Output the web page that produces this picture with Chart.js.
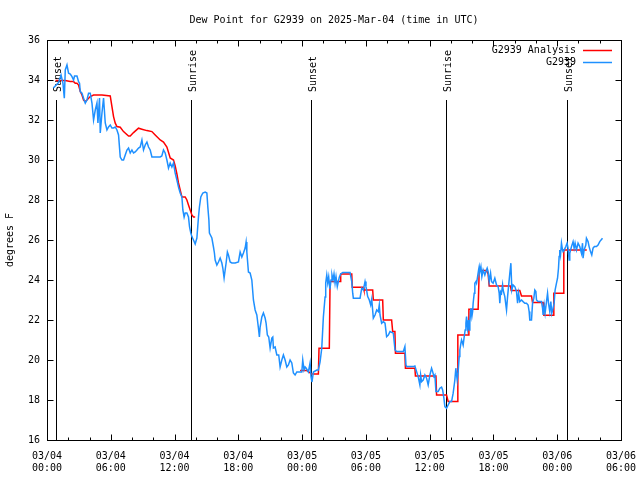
<!DOCTYPE html>
<html>
<head>
<meta charset="utf-8">
<script src="https://cdn.jsdelivr.net/npm/chart.js@4/dist/chart.umd.min.js"></script>
<style>
html, body { margin: 0; padding: 0; background: #fff; }
#wrap { width: 640px; height: 480px; }
</style>
</head>
<body>
<div id="wrap"><canvas id="chart" width="640" height="480"></canvas></div>
<script>
const chartTitle = 'Dew Point for G2939 on 2025-Mar-04 (time in UTC)';
const yTitle = 'degrees F';
const seriesNames = ['G2939 Analysis', 'G2939'];
const seriesColors = ['#ff0000', '#1e90ff'];

// x ticks every 6 hours from 03/04 00:00
const xTickDates = ['03/04', '03/04', '03/04', '03/04', '03/05', '03/05', '03/05', '03/05', '03/06', '03/06'];
const xTickTimes = ['00:00', '06:00', '12:00', '18:00', '00:00', '06:00', '12:00', '18:00', '00:00', '06:00'];

// sunrise / sunset markers (hours since 03/04 00:00 UTC)
const eventHours = [0.85, 13.53, 24.84, 37.5, 48.93];
const eventLabels = ['Sunset', 'Sunrise', 'Sunset', 'Sunrise', 'Sunset'];

// analysis (red), null = gap
const analysisHours = [0.8, 1.72, 2.19, 2.5, 2.66, 2.82, 2.97, 3.13, 3.29, 3.44, 3.6, 3.76, 4.07, 4.38, 5.17, 5.95,
  6.11, 6.26, 6.42, 6.58, 6.89, 7.2, 7.67, 7.83, 8.14, 8.61, 8.93, 9.4, 9.87, 10.18, 10.65, 10.96, 11.28, 11.59,
  11.9, 12.06, 12.22, 12.37, 12.53, 12.69, 13.0, 13.16, 13.31, 13.47, 13.63, 13.78, 13.94,
  18.0,
  23.81, 24.44, 24.91, 25.53, 25.59, 26.56, 26.63, 27.57, 27.63, 28.67, 28.72, 29.76, 29.82, 30.64, 30.7, 31.58,
  31.64, 32.42, 32.52, 32.73, 32.78, 33.67, 33.72, 34.61, 34.66, 36.59, 36.65, 37.59, 37.74, 38.59, 38.65, 39.62,
  39.69, 40.56, 40.66, 41.35, 41.5, 41.6, 43.61, 43.67, 44.48, 44.64, 45.58, 45.68, 46.67, 46.74, 47.61, 47.68,
  48.55, 48.62, 50.78];
const analysisValues = [33.97, 33.97, 33.92, 33.92, 33.84, 33.84, 33.75, 33.42, 33.25, 33.0, 32.92, 33.0, 33.17, 33.25, 33.25, 33.2,
  32.67, 32.17, 31.84, 31.67, 31.64, 31.42, 31.2, 31.2, 31.37, 31.59, 31.54, 31.47, 31.42, 31.25, 31.0, 30.9, 30.65, 30.1,
  30.0, 29.7, 29.3, 28.85, 28.5, 28.15, 28.15, 28.0, 27.75, 27.5, 27.25, 27.15, 27.15,
  null,
  19.47, 19.47, 19.3, 19.3, 20.59, 20.59, 23.92, 23.92, 24.3, 24.3, 23.64, 23.64, 23.5, 23.5, 23.0, 23.0,
  22.0, 22.0, 21.42, 21.42, 20.34, 20.34, 19.59, 19.59, 19.2, 19.2, 18.25, 18.25, 17.92, 17.92, 21.25, 21.25,
  22.54, 22.54, 24.47, 24.47, 24.3, 23.7, 23.7, 23.47, 23.47, 23.2, 23.2, 22.87, 22.87, 22.24, 22.24, 23.34,
  23.34, 25.5, 25.5];

// station observations (blue)
const obsHours = [0.59, 1.09, 1.32, 1.5, 1.63, 1.72, 1.88, 2.03, 2.19, 2.35, 2.5, 2.59, 2.82, 2.97, 3.06, 3.13, 3.29, 3.44,
  3.6, 3.76, 3.91, 4.07, 4.23, 4.38, 4.54, 4.7, 4.79, 4.94, 5.01, 5.17, 5.32, 5.48, 5.64, 5.79, 5.95, 6.11, 6.26, 6.42,
  6.58, 6.73, 6.89, 7.05, 7.2, 7.36, 7.52, 7.67, 7.83, 7.99, 8.14, 8.3, 8.46, 8.61, 8.77, 8.93, 9.08, 9.24, 9.4, 9.55,
  9.71, 9.87, 10.02, 10.65, 10.8, 10.96, 11.12, 11.28, 11.43, 11.59, 11.75, 11.9, 12.06, 12.22, 12.37, 12.53, 12.69,
  12.78, 12.9, 13.0, 13.16, 13.31, 13.41, 13.53, 13.63, 13.78, 13.94, 14.1, 14.25, 14.34, 14.47, 14.66, 14.88, 15.04,
  15.13, 15.23, 15.28, 15.51, 15.66, 15.75, 15.82, 15.98, 16.13, 16.29, 16.45, 16.54, 16.66, 16.76, 16.85, 16.97,
  17.07, 17.23, 17.39, 17.7, 18.01, 18.17, 18.33, 18.48, 18.64, 18.73, 18.8, 18.95, 19.11, 19.27, 19.42, 19.58, 19.74,
  19.89, 19.98, 20.05, 20.21, 20.36, 20.52, 20.61, 20.73, 20.86, 20.99, 21.15, 21.24, 21.3, 21.46, 21.62, 21.8, 21.93,
  22.09, 22.24, 22.4, 22.56, 22.71, 22.87, 23.03, 23.18, 23.34, 23.5, 23.97, 24.06, 24.18, 24.28, 24.37, 24.59, 24.75,
  24.84, 24.93, 25.06, 25.38, 25.53, 25.69, 25.85, 26.0, 26.16, 26.22, 26.32, 26.41, 26.5, 26.6,
  26.63, 26.72, 26.81, 26.91, 27.0, 27.1, 27.19, 27.31, 27.41, 27.5, 27.63, 27.82, 28.51, 28.67, 28.76, 28.82, 29.45,
  29.61, 29.76, 29.92, 30.01, 30.17, 30.32, 30.45, 30.55, 30.7, 30.86, 31.02, 31.17, 31.26, 31.33, 31.48, 31.64, 31.8,
  31.95, 32.11, 32.27, 32.58, 32.74, 32.89, 33.52, 33.67, 33.77, 33.83, 34.45, 34.61, 34.77, 34.92, 35.08, 35.15, 35.24,
  35.39, 35.55, 35.71, 35.86, 36.02, 36.18, 36.28, 36.4, 36.49, 36.59, 36.8, 36.96, 37.12, 37.22, 37.34, 37.43, 37.59,
  37.74, 37.9, 38.06, 38.21, 38.37, 38.46, 38.59, 38.68, 38.78, 38.84, 38.94, 39.0, 39.1, 39.15, 39.25, 39.34, 39.41,
  39.47, 39.57, 39.66, 39.72, 39.78, 39.88, 39.97, 40.04, 40.09, 40.19, 40.25, 40.35, 40.41, 40.51, 40.6, 40.66, 40.72,
  40.82, 40.91, 41.03, 41.19, 41.29, 41.41, 41.5, 41.6, 41.73, 41.82, 41.97, 42.13, 42.29, 42.44, 42.54, 42.6, 42.67,
  42.76, 42.86, 42.91, 43.07, 43.23, 43.33, 43.42, 43.54, 43.64, 43.73, 43.85, 44.01, 44.17, 44.27, 44.36, 44.48, 44.64,
  44.79, 44.95, 45.11, 45.26, 45.36, 45.42, 45.58, 45.68, 45.8, 45.89, 45.99, 46.05, 46.2, 46.52, 46.62, 46.67, 46.77,
  46.86, 46.99, 47.09, 47.18, 47.3, 47.4, 47.49, 47.61, 47.71, 47.8, 47.93, 48.03, 48.12, 48.18, 48.24, 48.31, 48.4,
  48.5, 48.55, 48.65, 48.81, 48.93, 49.02, 49.12, 49.18, 49.34, 49.49, 49.59, 49.68, 49.81, 49.96, 50.12, 50.28, 50.38,
  50.43, 50.53, 50.69, 50.75, 50.9, 51.0, 51.13, 51.25, 51.37, 51.5, 51.69, 51.84, 52.0, 52.26];
const obsValues = [33.6, 33.87, 34.25, 33.84, 33.09, 34.5, 34.75, 34.34, 34.3, 34.17, 34.0, 34.2, 34.2, 33.92, 33.84, 33.42, 33.34, 33.09,
  32.84, 33.0, 33.34, 33.34, 32.85, 32.0, 32.5, 32.85, 31.85, 33.1, 31.35, 32.35, 33.1, 31.85, 31.5, 31.65, 31.75, 31.6, 31.6, 31.65,
  31.5, 31.25, 30.15, 30.0, 30.0, 30.25, 30.5, 30.6, 30.35, 30.5, 30.35, 30.4, 30.5, 30.6, 30.65, 31.0, 30.5, 30.75, 30.9, 30.65,
  30.5, 30.15, 30.15, 30.15, 30.2, 30.5, 30.35, 30.0, 29.6, 29.85, 29.65, 29.85, 29.35, 29.0, 28.65, 28.35, 28.15,
  27.5, 27.15, 27.35, 27.35, 27.15, 26.65, 26.35, 26.17, 26.0, 25.8, 26.1, 27.15, 27.65, 28.15, 28.35, 28.4, 28.35,
  27.65, 27.0, 26.35, 26.1, 25.65, 25.35, 25.0, 24.75, 24.9, 25.1, 24.85, 24.6, 24.1, 24.5, 24.85, 25.4,
  25.25, 24.9, 24.85, 24.85, 24.9, 25.4, 25.15, 25.35, 25.6, 25.9, 25.4, 24.4, 24.35, 24.0, 23.0, 22.5, 22.25,
  21.6, 21.15, 21.65, 22.15, 22.35, 22.1, 21.85, 21.25, 21.15, 20.6, 21.1, 21.15, 20.6, 20.65, 20.25, 20.25, 19.65,
  20.0, 20.25, 20.0, 19.65, 19.75, 20.0, 19.85, 19.35, 19.25, 19.4, 19.4, 20.0, 19.5, 19.65, 19.6, 19.4, 19.85,
  19.15, 18.9, 19.4, 19.5, 19.5, 19.9, 20.6, 22.15, 23.15, 23.85, 24.25, 23.85, 24.15, 23.6,
  23.59, 24.0, 24.25, 24.0, 24.3, 23.84, 24.17, 23.67, 23.92, 24.14, 24.3, 24.37, 24.37, 23.92, 23.34, 23.09, 23.09,
  23.59, 23.5, 23.92, 23.67, 23.17, 23.0, 22.75, 23.04, 22.09, 22.25, 22.5, 22.42, 22.75, 22.25, 21.84, 21.92, 21.84,
  21.17, 21.25, 21.42, 21.34, 20.5, 20.42, 20.42, 20.67, 19.75, 19.67, 19.67, 19.7, 19.42, 19.17, 18.75, 19.25, 18.92,
  19.0, 19.25, 19.09, 18.75, 19.25, 19.59, 19.42, 19.17, 19.25, 18.42, 18.42, 18.59, 18.64, 18.5, 18.09, 17.67, 17.59,
  17.75, 17.92, 17.92, 18.34, 19.0, 19.59, 19.0, 19.42, 20.17, 20.5, 20.84, 21.0, 20.84, 20.75, 21.17, 21.5, 21.84,
  22.17, 21.59, 22.0, 21.5, 21.92, 22.59, 22.17, 22.42, 22.84, 23.34, 23.84, 23.92, 23.84, 24.17, 24.5, 24.67, 24.42,
  24.67, 24.17, 24.5, 24.25, 24.42, 24.59, 24.42, 23.92, 24.34, 23.92, 23.84, 24.09, 23.75, 23.67, 23.34, 22.84, 23.42,
  23.34, 23.75, 23.5, 23.17, 22.5, 23.17, 23.67, 24.34, 24.84, 23.5, 23.75, 23.67, 23.42, 22.84, 23.34, 22.92, 23.0,
  22.92, 22.84, 22.84, 22.75, 22.42, 22.0, 22.0, 22.84, 23.09, 23.5, 23.42, 23.0, 22.92, 22.92, 22.59, 22.25, 22.75,
  22.34, 22.92, 23.34, 22.84, 22.42, 22.92, 22.34, 22.59, 22.84, 23.5, 23.84, 24.09, 24.59, 25.17, 25.5, 25.25, 25.84,
  25.5, 25.42, 25.5, 25.67, 25.84, 25.59, 25.0, 25.34, 25.67, 25.92, 25.59, 25.84, 25.5, 25.84, 25.67, 25.34, 25.84,
  25.09, 25.5, 25.75, 26.09, 25.92, 25.67, 25.42, 25.25, 25.59, 25.67, 25.67, 25.75, 25.92, 26.09];

const monoFont = { family: 'DejaVu Sans Mono', size: 10 };
Chart.defaults.font.family = monoFont.family;
Chart.defaults.font.size = monoFont.size;
Chart.defaults.color = '#000';

const toPoints = (xs, ys) => xs.map((x, i) => ({ x: x, y: ys[i] }));

// frame, inward ticks, sunrise/sunset markers, legend and title (gnuplot look)
const gnuplotLook = {
  id: 'gnuplotLook',
  beforeDatasetsDraw(chart) {
    const { ctx, chartArea, scales } = chart;
    ctx.save();
    ctx.strokeStyle = '#000';
    ctx.lineWidth = 1;
    ctx.fillStyle = '#000';
    ctx.font = '10px "DejaVu Sans Mono"';
    eventHours.forEach((h, i) => {
      const x = Math.round(scales.x.getPixelForValue(h)) + 0.5;
      ctx.beginPath();
      ctx.moveTo(x, 100);
      ctx.lineTo(x, chartArea.bottom);
      ctx.stroke();
      ctx.save();
      ctx.translate(x + 1.5, 92);
      ctx.rotate(-Math.PI / 2);
      ctx.textAlign = 'left';
      ctx.textBaseline = 'middle';
      ctx.fillText(eventLabels[i], 0, 0);
      ctx.restore();
    });
    ctx.restore();
  },
  afterDatasetsDraw(chart) {
    const { ctx, chartArea, scales } = chart;
    const L = Math.round(chartArea.left) + 0.5, R = Math.round(chartArea.right) + 0.5;
    const T = Math.round(chartArea.top) + 0.5, B = Math.round(chartArea.bottom) + 0.5;
    ctx.save();
    ctx.strokeStyle = '#000';
    ctx.lineWidth = 1;
    ctx.beginPath();
    scales.x.ticks.forEach(t => {
      const x = Math.round(scales.x.getPixelForValue(t.value)) + 0.5;
      const len = t.value % 6 === 0 ? 6 : 3;
      ctx.moveTo(x, B); ctx.lineTo(x, B - len);
      ctx.moveTo(x, T); ctx.lineTo(x, T + len);
    });
    scales.y.ticks.forEach(t => {
      const y = Math.round(scales.y.getPixelForValue(t.value)) + 0.5;
      ctx.moveTo(L, y); ctx.lineTo(L + 6, y);
      ctx.moveTo(R, y); ctx.lineTo(R - 6, y);
    });
    ctx.stroke();
    ctx.strokeRect(L, T, R - L, B - T);
    ctx.restore();
  },
  afterDraw(chart) {
    const { ctx, chartArea } = chart;
    ctx.save();
    ctx.fillStyle = '#000';
    ctx.font = '10px "DejaVu Sans Mono"';
    ctx.textAlign = 'center';
    ctx.textBaseline = 'middle';
    ctx.fillText(chartTitle, (chartArea.left + chartArea.right) / 2, 20);
    // legend
    ctx.textAlign = 'right';
    seriesNames.forEach((name, i) => {
      const y = 50 + i * 12;
      ctx.fillStyle = '#000';
      ctx.fillText(name, 576, y);
      ctx.strokeStyle = seriesColors[i];
      ctx.lineWidth = 1.5;
      ctx.beginPath();
      ctx.moveTo(583, y + 0.5);
      ctx.lineTo(612, y + 0.5);
      ctx.stroke();
    });
    ctx.restore();
  }
};

new Chart(document.getElementById('chart'), {
  type: 'line',
  data: {
    datasets: [{
      label: seriesNames[1],
      data: toPoints(obsHours, obsValues),
      borderColor: seriesColors[1],
      borderWidth: 1.5,
      pointRadius: 0,
      order: 0,
    }, {
      label: seriesNames[0],
      data: toPoints(analysisHours, analysisValues),
      borderColor: seriesColors[0],
      borderWidth: 1.5,
      pointRadius: 0,
      spanGaps: false,
      order: 1,
    }]
  },
  options: {
    responsive: false,
    animation: false,
    devicePixelRatio: 1,
    layout: { padding: { top: 40, right: 19, bottom: 0, left: 0 } },
    plugins: {
      legend: { display: false },
      title: { display: false },
      tooltip: { enabled: false },
    },
    scales: {
      x: {
        type: 'linear',
        min: 0,
        max: 54,
        grid: { display: false, drawTicks: false },
        border: { display: false },
        ticks: {
          stepSize: 2,
          autoSkip: false,
          maxRotation: 0,
          padding: 10,
          callback: v => (v % 6 === 0 ? [xTickDates[v / 6], xTickTimes[v / 6]] : ''),
        },
        afterFit: s => { s.height = 40; s.paddingLeft = 0; s.paddingRight = 0; },
      },
      y: {
        min: 16,
        max: 36,
        grid: { display: false, drawTicks: false },
        border: { display: false },
        ticks: { stepSize: 2, padding: 7 },
        title: { display: true, text: yTitle, padding: { top: 4, bottom: 0 } },
        afterFit: s => { s.width = 47; s.paddingTop = 0; s.paddingBottom = 0; },
      }
    }
  },
  plugins: [gnuplotLook]
});
</script>
</body>
</html>
